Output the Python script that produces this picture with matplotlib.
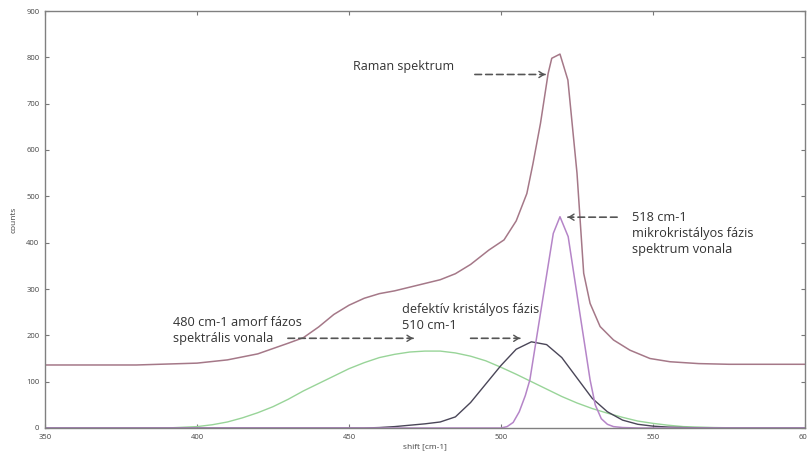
import matplotlib
matplotlib.use("Agg")
import matplotlib.pyplot as plt

# ---- data ----
raman_x = [350, 380, 400, 410, 420, 430, 435, 440, 445, 450, 455, 460, 465, 470, 475, 480,
           485, 490, 496, 501, 505, 508.5, 510.5, 513, 515.5, 516.7, 519.4, 522, 525,
           527.2, 529.3, 532.6, 537, 542.4, 549, 555.6, 565, 575, 600]
raman_y = [136, 136, 140, 147, 160, 183, 195, 218, 245, 265, 280, 290, 296, 304, 312, 320,
           333, 353, 384, 406, 447, 506, 570, 658, 765, 798, 807, 751, 550,
           334, 269, 219, 190, 168, 150, 143, 139, 137.5, 137.5]

amorf_x = [350, 390, 400, 405, 410, 415, 420, 425, 430, 435, 440, 445, 450, 455, 460, 465,
           470, 475, 480, 485, 490, 495, 500, 505, 510, 515, 520, 525, 530, 535, 540, 545,
           550, 555, 560, 570, 580, 600]
amorf_y = [0, 0, 3, 7, 13, 22, 33, 46, 62, 80, 96, 112, 128, 141, 152, 159,
           164, 166, 166, 162, 155, 145, 131, 116, 100, 84, 68, 54, 42, 32, 23, 15,
           10, 6, 3, 1, 0, 0]

defekt_x = [350, 455, 460, 465, 470, 475, 480, 485, 490, 495, 500, 505, 510, 515, 520, 525,
            530, 535, 540, 545, 550, 555, 560, 570, 600]
defekt_y = [0, 0, 1, 3, 6, 9, 13, 24, 55, 95, 135, 170, 186, 180, 152, 108,
            64, 35, 17, 8, 4, 2, 1, 0, 0]

mikro_x = [350, 500, 502, 504, 506, 508, 509.5, 512, 514, 516, 517.2, 519.4, 522.1, 524,
           526, 528, 529.3, 531, 533, 535, 537, 540, 545, 600]
mikro_y = [0, 0, 3, 12, 35, 70, 104, 207, 289, 371, 420, 456, 413, 331,
           245, 160, 104, 50, 20, 8, 3, 1, 0, 0]

x_ticks = [350, 400, 450, 500, 550, 600]
y_ticks = [0, 100, 200, 300, 400, 500, 600, 700, 800, 900]

plt.rcParams['font.family'] = ['Open Sans', 'DejaVu Sans']

fig = plt.figure(figsize=(8.07, 4.54), dpi=100)
ax = fig.add_axes([45 / 807, 1 - 428 / 454, 760 / 807, 417 / 454])

ax.plot(amorf_x, amorf_y, color='#98d498', lw=1.0)
ax.plot(defekt_x, defekt_y, color='#4a4658', lw=1.0)
ax.plot(mikro_x, mikro_y, color='#b585c8', lw=1.1)
ax.plot(raman_x, raman_y, color='#a57888', lw=1.1)

ax.set_xlim(350, 600)
ax.set_ylim(0, 900)
ax.set_xticks(x_ticks)
ax.set_yticks(y_ticks)
ax.tick_params(direction='in', top=True, right=True, labelsize=5.5,
               colors='#777777', labelcolor='#444444', length=3, width=0.8, pad=4)
for s in ax.spines.values():
    s.set_color('#808080')
    s.set_linewidth(1.0)
ax.set_xlabel('shift [cm-1]', fontsize=6, color='#444444', labelpad=2)
ax.set_ylabel('counts', fontsize=6, color='#444444', labelpad=6)

tcol = '#333333'
fs = 9.2
ax.text(451.2, 781, 'Raman spektrum', fontsize=9.0, color=tcol, va='center', ha='left')
ax.text(543.0, 419.8, '518 cm-1\nmikrokristályos fázis\nspektrum vonala', fontsize=fs,
        color=tcol, va='center', ha='left', linespacing=1.3)
ax.text(392.0, 209.8, '480 cm-1 amorf fázos\nspektrális vonala', fontsize=fs,
        color=tcol, va='center', ha='left', linespacing=1.3)
ax.text(467.3, 239.2, 'defektív kristályos fázis\n510 cm-1', fontsize=fs,
        color=tcol, va='center', ha='left', linespacing=1.3)

acol = '#555555'
def dashed_arrow(x0, x1, y):
    ax.annotate('', xy=(x1, y), xytext=(x0, y),
                arrowprops=dict(arrowstyle='-', linestyle=(0, (4, 2.5)),
                                color=acol, lw=1.2, shrinkA=0, shrinkB=0))
    ax.annotate('', xy=(x1, y), xytext=(x1 - 1.6 * (1 if x1 > x0 else -1), y),
                arrowprops=dict(arrowstyle='->,head_length=0.35,head_width=0.22',
                                color=acol, lw=1.0, shrinkA=0, shrinkB=0))

dashed_arrow(491.4, 514.5, 763)
dashed_arrow(538.2, 522.0, 455)
dashed_arrow(429.9, 471.1, 193.6)
dashed_arrow(490.0, 506.2, 193.6)

fig.savefig('out.png', dpi=100)
